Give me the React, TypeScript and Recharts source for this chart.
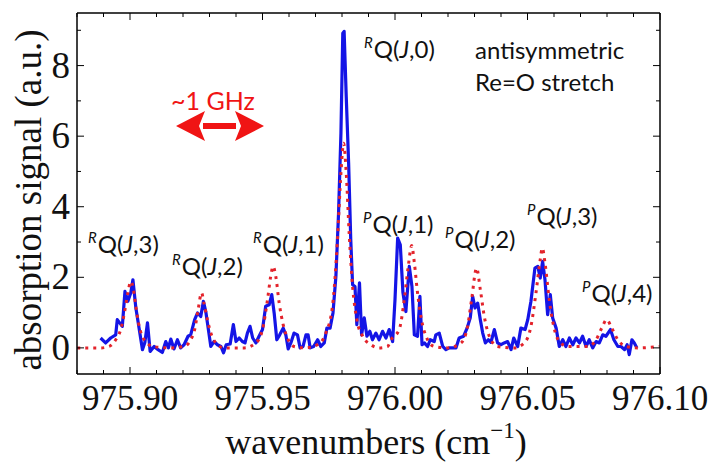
import { LineChart, Line, XAxis, YAxis } from 'recharts'

// measured spectrum (blue trace)
const measuredX = [
  975.8889, 975.8908, 975.8927, 975.8946, 975.8952, 975.8971, 975.8981, 975.8992, 975.9003, 975.9011,
  975.9022, 975.9034, 975.9047, 975.9056, 975.9066, 975.9076, 975.9091, 975.9106, 975.9122, 975.9135,
  975.9145, 975.9154, 975.9166, 975.9179, 975.9191, 975.9204, 975.9219, 975.9229, 975.9244, 975.9255,
  975.9267, 975.9277, 975.9286, 975.9295, 975.9305, 975.9317, 975.933, 975.9343, 975.9353, 975.9363,
  975.9378, 975.939, 975.94, 975.9412, 975.9424, 975.9434, 975.9443, 975.9453, 975.9463, 975.9475,
  975.9487, 975.95, 975.9512, 975.9525, 975.9535, 975.9544, 975.9554, 975.9565, 975.9578, 975.9588,
  975.9597, 975.9607, 975.9619, 975.9632, 975.9642, 975.9653, 975.9664, 975.9672, 975.968, 975.9693,
  975.9708, 975.972, 975.9733, 975.9743, 975.9755, 975.9766, 975.9777, 975.9787, 975.9796, 975.9803,
  975.9808, 975.9816, 975.9825, 975.9833, 975.984, 975.9849, 975.9856, 975.9866, 975.9874, 975.9884,
  975.9894, 975.9905, 975.9915, 975.9928, 975.994, 975.9953, 975.9966, 975.9978, 975.9991, 976.0,
  976.001, 976.002, 976.003, 976.0041, 976.0054, 976.0064, 976.0073, 976.0085, 976.0094, 976.0102,
  976.0111, 976.0123, 976.0133, 976.0148, 976.0154, 976.0167, 976.018, 976.0192, 976.0205, 976.0218,
  976.023, 976.0242, 976.0259, 976.0272, 976.0284, 976.0293, 976.0302, 976.0312, 976.0322, 976.0331,
  976.0341, 976.0352, 976.0362, 976.0375, 976.0387, 976.04, 976.0412, 976.0425, 976.0438, 976.0448,
  976.0463, 976.0475, 976.0491, 976.0501, 976.0513, 976.0528, 976.0539, 976.0548, 976.0557, 976.0566,
  976.0576, 976.0586, 976.0595, 976.0608, 976.062, 976.0633, 976.0645, 976.0658, 976.0671, 976.0683,
  976.0696, 976.0708, 976.0721, 976.0733, 976.0746, 976.0759, 976.0771, 976.0784, 976.0796, 976.0813,
  976.0826, 976.0841, 976.0853, 976.0866, 976.0876, 976.0884, 976.0894, 976.0903, 976.0913,
]
const measuredY = [
  0.28, 0.14, 0.28, 0.37, 0.8, 0.61, 1.6, 1.32, 1.56, 1.93,
  1.14, 0.57, -0.05, 0.15, 0.71, -0.1, 0.04, -0.05, -0.13, 0.18,
  0.0, 0.25, -0.03, 0.23, 0.0, 0.09, 0.33, 0.37, 0.8, 0.99,
  0.89, 1.32, 1.03, 0.56, 0.04, 0.18, 0.09, 0.04, -0.14, 0.09,
  0.11, 0.66, 0.18, 0.28, 0.18, 0.14, 0.42, 0.61, 0.28, 0.14,
  0.33, 0.52, 1.18, 1.22, 1.51, 0.99, 0.23, 0.37, 0.56, 0.37,
  -0.03, 0.14, 0.42, 0.37, 0.0, 0.04, 0.37, 0.37, 0.0, 0.04,
  0.23, 0.04, 0.14, 0.56, 0.56, 0.99, 2.03, 3.82, 6.09, 8.92,
  8.97, 7.12, 5.24, 3.07, 1.79, 1.74, 0.66, 1.84, 0.37, 0.85,
  0.33, 0.47, 0.23, 0.42, 0.23, 0.47, 0.28, 0.52, 0.18, 1.37,
  3.11, 2.92, 1.56, 1.03, 2.31, 1.74, 0.37, 0.33, 1.46, 0.09,
  0.14, 0.04, 0.23, 0.18, 0.37, 0.42, 0.04, -0.05, 0.0, 0.0,
  0.0, 0.28, 0.33, 0.56, 0.85, 1.46, 1.13, 1.27, 0.8, 0.42,
  0.14, 0.23, 0.16, 0.52, 0.14, 0.09, 0.14, 0.18, -0.05, 0.28,
  0.04, 0.56, 0.52, 0.8, 1.32, 2.26, 2.31, 1.98, 2.45, 1.93,
  0.94, 1.51, 0.85, 0.56, 0.04, 0.23, 0.04, 0.28, 0.09, 0.28,
  0.14, 0.33, 0.04, 0.23, 0.0, 0.18, 0.14, 0.37, 0.33, 0.52,
  0.23, 0.04, 0.04, -0.05, 0.09, -0.19, 0.23, 0.14, 0.0,
]

// simulated spectrum (red dotted trace)
const simX = [
  975.8801, 975.8889, 975.8921, 975.8946, 975.8965, 975.8981, 975.8992, 975.9003, 975.9013, 975.9022,
  975.9032, 975.9044, 975.9059, 975.9085, 975.9154, 975.9204, 975.9229, 975.9244, 975.9257, 975.927,
  975.9279, 975.9292, 975.9305, 975.9324, 975.9355, 975.9431, 975.9475, 975.95, 975.9519, 975.9531,
  975.954, 975.955, 975.9563, 975.9578, 975.9594, 975.9619, 975.9657, 975.9708, 975.9739, 975.9764,
  975.9783, 975.9796, 975.9806, 975.9816, 975.9827, 975.984, 975.9856, 975.9878, 975.9909, 975.994,
  975.9972, 975.9985, 976.0016, 976.0035, 976.005, 976.0063, 976.0073, 976.0085, 976.01, 976.0117,
  976.0148, 976.0199, 976.0249, 976.0274, 976.0289, 976.0308, 976.0322, 976.0337, 976.0356, 976.0387,
  976.045, 976.0488, 976.0513, 976.0532, 976.0548, 976.0556, 976.0566, 976.0582, 976.0599, 976.062,
  976.0652, 976.0727, 976.0759, 976.078, 976.0799, 976.0818, 976.0841, 976.0872, 976.0916, 976.0998,
]
const simY = [
  0.0, 0.0, 0.04, 0.23, 0.52, 1.08, 1.56, 1.88, 1.65, 1.18,
  0.71, 0.37, 0.18, 0.04, 0.0, 0.04, 0.23, 0.52, 1.08, 1.56,
  1.27, 0.8, 0.42, 0.14, 0.0, 0.0, 0.14, 0.52, 1.37, 2.03,
  2.31, 2.03, 1.27, 0.66, 0.28, 0.04, 0.0, 0.09, 0.42, 1.18,
  3.07, 4.95, 5.8, 4.95, 3.25, 1.74, 0.8, 0.33, 0.09, 0.0,
  0.04, 0.23, 0.52, 1.37, 2.31, 2.9, 2.41, 1.56, 0.8, 0.33,
  0.04, 0.0, 0.14, 0.61, 1.37, 2.26, 1.65, 0.89, 0.33, 0.04,
  0.0, 0.14, 0.61, 1.56, 2.5, 2.83, 2.41, 1.37, 0.61, 0.18,
  0.04, 0.04, 0.23, 0.56, 0.8, 0.56, 0.23, 0.04, 0.0, 0.04,
]

const xTicks = [
  975.88, 975.89, 975.9, 975.91, 975.92, 975.93, 975.94, 975.95, 975.96, 975.97, 975.98, 975.99,
  976.0, 976.01, 976.02, 976.03, 976.04, 976.05, 976.06, 976.07, 976.08, 976.09, 976.1,
]
const yTicks = [0, 1, 2, 3, 4, 5, 6, 7, 8, 9]

const measured = measuredX.map((x, i) => ({ x, y: measuredY[i] }))
const simulated = simX.map((x, i) => ({ x, y: simY[i] }))

const SERIF = '"Liberation Serif", "Times New Roman", serif'
const SANS = 'Lato, "Open Sans", sans-serif'

const isMajorX = (v: number) => Math.abs(v * 20 - Math.round(v * 20)) < 1e-6
const isMajorY = (v: number) => v % 2 === 0

const BottomTick = ({ x, y, payload }: any) => {
  const major = isMajorX(payload.value)
  return (
    <g>
      <line x1={x} y1={y} x2={x} y2={y - (major ? 7 : 4)} stroke="#000" strokeWidth={1} />
      {major && (
        <text x={x} y={y + 36} textAnchor="middle" fontFamily={SERIF} fontSize={35} fill="#111">
          {payload.value.toFixed(2)}
        </text>
      )}
    </g>
  )
}

const TopTick = ({ x, y, payload }: any) => (
  <line x1={x} y1={y} x2={x} y2={y + (isMajorX(payload.value) ? 7 : 4)} stroke="#000" strokeWidth={1} />
)

const LeftTick = ({ x, y, payload }: any) => {
  const major = isMajorY(payload.value)
  return (
    <g>
      <line x1={x} y1={y} x2={x + (major ? 7 : 4)} y2={y} stroke="#000" strokeWidth={1} />
      {major && (
        <text x={x - 7} y={y + 12} textAnchor="end" fontFamily={SERIF} fontSize={37} fill="#111">
          {payload.value}
        </text>
      )}
    </g>
  )
}

const RightTick = ({ x, y, payload }: any) => (
  <line x1={x} y1={y} x2={x - (isMajorY(payload.value) ? 7 : 4)} y2={y} stroke="#000" strokeWidth={1} />
)

// transition label like  ᴿQ(J,0)
const Transition = ({ x, y, branch, k }: { x: number; y: number; branch: string; k: string }) => (
  <text x={x} y={y} fontFamily={SANS} fontSize={24} fill="#111">
    <tspan fontSize={15} fontStyle="italic" dy={-10}>{branch}</tspan>
    <tspan dy={10} dx={1}>Q(</tspan>
    <tspan fontStyle="italic">J</tspan>
    <tspan>,{k})</tspan>
  </text>
)

export default function App() {
  return (
    <div style={{ position: 'absolute', left: 0, top: 0, width: 719, height: 464, background: '#fff' }}>
      <LineChart width={719} height={464} margin={{ top: 12, right: 58, bottom: 10, left: 17 }}>
        <XAxis
          xAxisId="bottom"
          type="number"
          dataKey="x"
          domain={[975.88, 976.1]}
          allowDataOverflow
          ticks={xTicks}
          interval={0}
          height={80}
          tickSize={0}
          tickMargin={0}
          axisLine={{ stroke: '#000', strokeWidth: 1.5 }}
          tick={<BottomTick />}
        />
        <XAxis
          xAxisId="top"
          orientation="top"
          type="number"
          dataKey="x"
          domain={[975.88, 976.1]}
          allowDataOverflow
          ticks={xTicks}
          interval={0}
          height={1}
          tickSize={0}
          tickMargin={0}
          axisLine={{ stroke: '#000', strokeWidth: 1.5 }}
          tick={<TopTick />}
        />
        <YAxis
          yAxisId="left"
          type="number"
          domain={[-0.74, 9.49]}
          allowDataOverflow
          ticks={yTicks}
          interval={0}
          width={60}
          tickSize={0}
          tickMargin={0}
          axisLine={{ stroke: '#000', strokeWidth: 1.5 }}
          tick={<LeftTick />}
        />
        <YAxis
          yAxisId="right"
          orientation="right"
          type="number"
          domain={[-0.74, 9.49]}
          allowDataOverflow
          ticks={yTicks}
          interval={0}
          width={1}
          tickSize={0}
          tickMargin={0}
          axisLine={{ stroke: '#000', strokeWidth: 1.5 }}
          tick={<RightTick />}
        />
        <Line
          data={measured}
          dataKey="y"
          xAxisId="bottom"
          yAxisId="left"
          type="linear"
          stroke="#1414e6"
          strokeWidth={3.2}
          strokeLinejoin="round"
          dot={false}
          isAnimationActive={false}
        />
        <Line
          data={simulated}
          dataKey="y"
          xAxisId="top"
          yAxisId="right"
          type="monotone"
          stroke="#e3232b"
          strokeWidth={3}
          strokeDasharray="3 5"
          dot={false}
          isAnimationActive={false}
        />
      </LineChart>

      <svg width={719} height={464} style={{ position: 'absolute', left: 0, top: 0, pointerEvents: 'none' }}>
        <text
          transform="translate(41,200) rotate(-90)"
          textAnchor="middle"
          fontFamily={SERIF}
          fontSize={37}
          fill="#111"
        >
          absorption signal (a.u.)
        </text>
        <text x={376} y={454} textAnchor="middle" fontFamily={SERIF} fontSize={36} fill="#111">
          wavenumbers (cm
          <tspan fontSize={23} dy={-16}>−1</tspan>
          <tspan dy={16}>)</tspan>
        </text>

        <Transition x={88} y={253} branch="R" k="3" />
        <Transition x={172} y={275} branch="R" k="2" />
        <Transition x={253} y={253} branch="R" k="1" />
        <Transition x={364} y={58} branch="R" k="0" />
        <Transition x={363} y={233} branch="P" k="1" />
        <Transition x={445} y={248} branch="P" k="2" />
        <Transition x={527} y={225} branch="P" k="3" />
        <Transition x={582} y={302} branch="P" k="4" />

        <text x={475} y={59} fontFamily={SANS} fontSize={24} fill="#111">antisymmetric</text>
        <text x={475} y={91} fontFamily={SANS} fontSize={24} fill="#111">Re=O stretch</text>

        <text x={213} y={110} textAnchor="middle" fontFamily={SANS} fontSize={25} fill="#f01414">~1 GHz</text>
        <polygon points="176,126 205,111 199,126 205,141" fill="#f01414" />
        <rect x={203} y={123} width={33} height={6} fill="#f01414" />
        <polygon points="264,126 235,111 241,126 235,141" fill="#f01414" />
      </svg>
    </div>
  )
}
